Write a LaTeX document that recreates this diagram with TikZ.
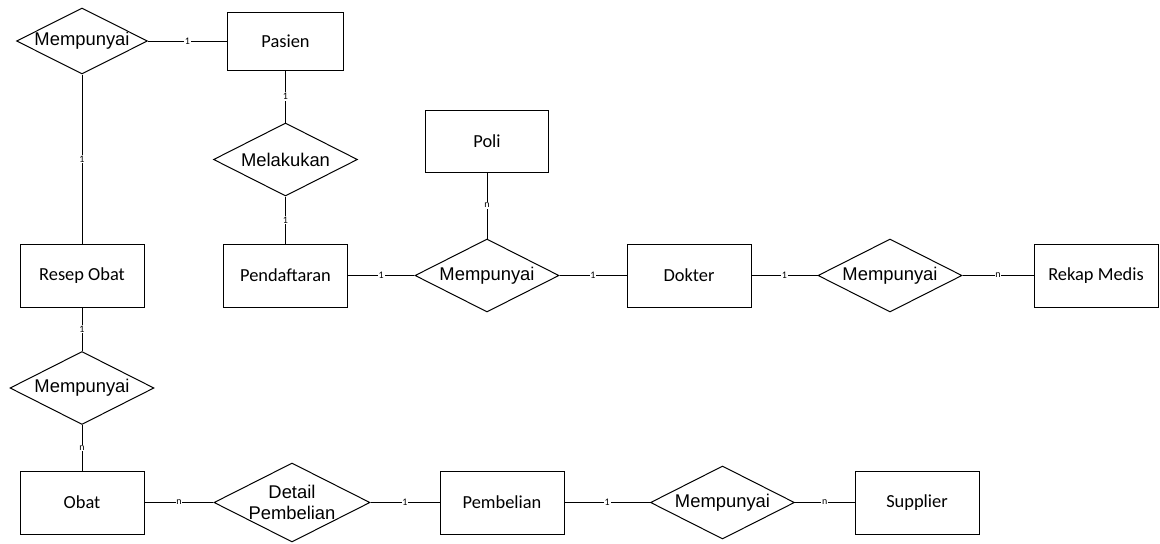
\documentclass[tikz,border=0pt]{standalone}
\usepackage{fontspec}
\setmainfont{Carlito}
\newfontfamily\relfont{Liberation Sans}
\usetikzlibrary{shapes.geometric}

\begin{document}
\begin{tikzpicture}[x=0.75pt,y=-0.75pt,line width=0.75pt,
  entitas/.style={draw,rectangle,minimum width=93pt,minimum height=47.25pt,inner sep=0pt,font=\fontsize{13.8}{16}\selectfont},
  relasi/.style={draw,diamond,aspect=1.97,minimum width=108pt,minimum height=54.75pt,inner sep=0pt,align=center,font=\relfont\fontsize{13.8}{15.5}\selectfont},
  kard/.style={midway,fill=white,inner sep=0.6pt,font=\fontsize{7.5}{8}\selectfont}]
  \useasboundingbox (0,0) rectangle (1160,543);

  % entitas
  \node[entitas,minimum width=87pt,minimum height=43.5pt] (pasien) at (285.5,41) {Pasien};
  \node[entitas,minimum width=92.25pt,minimum height=46.5pt] (poli) at (487,141) {Poli};
  \node[entitas] (resep) at (82,275.5) {Resep Obat};
  \node[entitas] (daftar) at (285.5,275.5) {Pendaftaran};
  \node[entitas] (dokter) at (689,275.5) {Dokter};
  \node[entitas] (rekap) at (1096,275.5) {Rekap Medis};
  \node[entitas] (obat) at (82,502.5) {Obat};
  \node[entitas] (beli) at (502,502.5) {Pembelian};
  \node[entitas] (supplier) at (917,502.5) {Supplier};

  % relasi
  \node[relasi,minimum width=98.25pt,minimum height=49.5pt] (m1) at (82,41) {Mempunyai};
  \node[relasi] (melakukan) at (285.5,159.5) {Melakukan};
  \node[relasi] (m2) at (487,275.5) {Mempunyai};
  \node[relasi] (m3) at (890,275.5) {Mempunyai};
  \node[relasi] (m4) at (82,388) {Mempunyai};
  \node[relasi,minimum width=117pt,minimum height=59.25pt,inner sep=-1.5pt] (detail) at (292,502.5) {Detail\\Pembelian};
  \node[relasi] (m5) at (722.5,502.5) {Mempunyai};

  % garis + kardinalitas
  \foreach \a/\b/\c in {m1/pasien/1,pasien/melakukan/1,melakukan/daftar/1,m1/resep/1,
    daftar/m2/1,poli/m2/n,m2/dokter/1,dokter/m3/1,m3/rekap/n,
    resep/m4/1,m4/obat/n,obat/detail/n,detail/beli/1,beli/m5/1,m5/supplier/n}{
    \draw (\a) -- node[kard]{\c} (\b);
  }
\end{tikzpicture}
\end{document}
